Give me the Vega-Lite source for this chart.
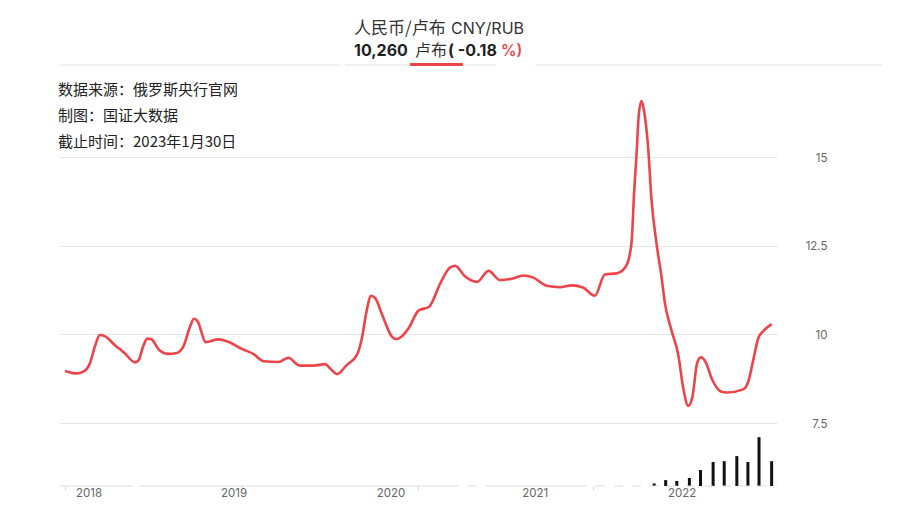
{
  "$schema": "https://vega.github.io/schema/vega-lite/v6.json",
  "width": 717,
  "height": 421,
  "autosize": "none",
  "padding": {"left": 60, "top": 65, "right": 123, "bottom": 26},
  "background": "white",
  "config": {"view": {"stroke": null}, "font": "Noto Sans CJK SC"},
  "datasets": {
    "price": [
      {"date":"2018-01-01","rate":8.97},{"date":"2018-01-31","rate":8.90},{"date":"2018-02-18","rate":8.95},{"date":"2018-03-07","rate":9.18},
      {"date":"2018-03-20","rate":9.65},{"date":"2018-04-02","rate":9.98},{"date":"2018-04-15","rate":9.95},{"date":"2018-05-11","rate":9.70},
      {"date":"2018-06-06","rate":9.47},{"date":"2018-07-03","rate":9.21},{"date":"2018-07-13","rate":9.28},{"date":"2018-07-24","rate":9.65},
      {"date":"2018-08-04","rate":9.88},{"date":"2018-08-15","rate":9.86},{"date":"2018-09-04","rate":9.56},{"date":"2018-09-28","rate":9.45},
      {"date":"2018-10-18","rate":9.47},{"date":"2018-11-06","rate":9.65},{"date":"2018-11-24","rate":10.22},{"date":"2018-12-04","rate":10.44},
      {"date":"2018-12-14","rate":10.36},{"date":"2019-01-04","rate":9.78},{"date":"2019-02-06","rate":9.86},{"date":"2019-03-04","rate":9.79},
      {"date":"2019-04-08","rate":9.59},{"date":"2019-05-08","rate":9.45},{"date":"2019-06-05","rate":9.24},{"date":"2019-07-13","rate":9.22},
      {"date":"2019-08-08","rate":9.34},{"date":"2019-09-06","rate":9.12},{"date":"2019-10-13","rate":9.12},{"date":"2019-11-12","rate":9.16},
      {"date":"2019-11-25","rate":9.04},{"date":"2019-12-13","rate":8.88},{"date":"2020-01-08","rate":9.14},{"date":"2020-02-03","rate":9.42},
      {"date":"2020-02-16","rate":9.89},{"date":"2020-02-28","rate":10.64},{"date":"2020-03-11","rate":11.09},{"date":"2020-03-22","rate":11.02},
      {"date":"2020-04-09","rate":10.55},{"date":"2020-05-05","rate":9.93},{"date":"2020-05-16","rate":9.87},{"date":"2020-05-31","rate":9.95},
      {"date":"2020-06-17","rate":10.17},{"date":"2020-07-13","rate":10.67},{"date":"2020-08-10","rate":10.78},{"date":"2020-09-08","rate":11.44},
      {"date":"2020-10-04","rate":11.89},{"date":"2020-10-17","rate":11.93},{"date":"2020-11-12","rate":11.63},{"date":"2020-12-13","rate":11.48},
      {"date":"2021-01-12","rate":11.79},{"date":"2021-02-11","rate":11.53},{"date":"2021-03-14","rate":11.57},{"date":"2021-04-13","rate":11.66},
      {"date":"2021-05-09","rate":11.60},{"date":"2021-06-13","rate":11.37},{"date":"2021-07-18","rate":11.33},{"date":"2021-08-17","rate":11.38},
      {"date":"2021-09-16","rate":11.32},{"date":"2021-10-17","rate":11.09},{"date":"2021-11-12","rate":11.69},{"date":"2021-12-13","rate":11.72},
      {"date":"2022-01-03","rate":11.87},{"date":"2022-01-16","rate":12.24},{"date":"2022-01-22","rate":12.75},{"date":"2022-01-27","rate":13.88},
      {"date":"2022-02-03","rate":15.10},{"date":"2022-02-09","rate":16.23},{"date":"2022-02-16","rate":16.58},{"date":"2022-02-22","rate":16.33},
      {"date":"2022-03-05","rate":15.29},{"date":"2022-03-14","rate":13.79},{"date":"2022-03-27","rate":12.57},{"date":"2022-04-09","rate":11.63},
      {"date":"2022-04-18","rate":10.88},{"date":"2022-05-05","rate":10.12},{"date":"2022-05-23","rate":9.42},{"date":"2022-06-05","rate":8.48},
      {"date":"2022-06-18","rate":7.98},{"date":"2022-06-29","rate":8.24},{"date":"2022-07-11","rate":9.18},{"date":"2022-07-21","rate":9.35},
      {"date":"2022-08-03","rate":9.21},{"date":"2022-08-18","rate":8.76},{"date":"2022-09-13","rate":8.38},{"date":"2022-09-26","rate":8.36},
      {"date":"2022-11-09","rate":8.45},{"date":"2022-11-22","rate":8.67},{"date":"2022-12-05","rate":9.28},{"date":"2022-12-18","rate":9.89},
      {"date":"2022-12-31","rate":10.09},{"date":"2023-01-22","rate":10.29}
    ],
    "volume": [
      {"date":"2022-03-21","vol":0.6},{"date":"2022-04-20","vol":1.4},{"date":"2022-05-19","vol":1.2},{"date":"2022-06-21","vol":1.9},
      {"date":"2022-07-20","vol":3.8},{"date":"2022-08-22","vol":5.7},{"date":"2022-09-20","vol":5.9},{"date":"2022-10-23","vol":7.1},
      {"date":"2022-11-21","vol":5.7},{"date":"2022-12-20","vol":11.6},{"date":"2023-01-22","vol":5.9}
    ],
    "baseline": [
      {"start":"2017-12-19","end":"2018-06-28"},
      {"start":"2018-07-13","end":"2020-10-03"},
      {"start":"2021-01-24","end":"2021-09-03"}
    ],
    "baselineDashed": [
      {"start":"2020-10-03","end":"2021-01-24"},
      {"start":"2021-09-03","end":"2023-02-05"}
    ],
    "headerLine": [
      {"start":"2017-12-19","end":"2019-12-21"},
      {"start":"2020-01-03","end":"2021-02-01"},
      {"start":"2021-05-14","end":"2023-11-07"}
    ],
    "years": [
      {"date":"2018-03-05","label":"2018"},
      {"date":"2019-03-19","label":"2019"},
      {"date":"2020-05-02","label":"2020"},
      {"date":"2021-05-14","label":"2021"},
      {"date":"2022-06-02","label":"2022"}
    ]
  },
  "layer": [
    {
      "data": {"name": "price"},
      "mark": {"type": "line", "color": "#ee4449", "strokeWidth": 2.6, "interpolate": "monotone"},
      "encoding": {
        "x": {
          "field": "date",
          "type": "temporal",
          "scale": {"domain": [{"year":2017,"month":12,"date":19},{"year":2023,"month":2,"date":5}], "padding": 0},
          "axis": {
            "title": null,
            "labels": false,
            "domain": false,
            "grid": false,
            "tickColor": "#d8d8d8",
            "tickSize": 4,
            "values": [
              {"year":2018,"month":1,"date":1},
              {"year":2019,"month":4,"date":9},
              {"year":2020,"month":7,"date":12},
              {"year":2021,"month":10,"date":12}
            ]
          }
        },
        "y": {
          "field": "rate",
          "type": "quantitative",
          "scale": {"domain": [5.725, 17.594], "nice": false, "zero": false},
          "axis": {
            "title": null,
            "orient": "right",
            "values": [7.5, 10, 12.5, 15],
            "labelExpr": "datum.value",
            "domain": false,
            "ticks": false,
            "grid": true,
            "gridColor": "#e6e6e6",
            "labelAlign": "right",
            "labelPadding": 50,
            "labelOffset": 1,
            "labelFont": "Inter",
            "labelFontSize": 11.5,
            "labelColor": "#666666"
          }
        }
      }
    },
    {
      "data": {"name": "volume"},
      "mark": {"type": "bar", "color": "#111111", "width": 3},
      "encoding": {
        "x": {"field": "date", "type": "temporal"},
        "y": {
          "field": "vol",
          "type": "quantitative",
          "scale": {"domain": [0, 100], "nice": false},
          "axis": null
        }
      }
    },
    {
      "data": {"name": "baseline"},
      "mark": {"type": "rule", "color": "#dddddd", "strokeWidth": 1},
      "encoding": {
        "x": {"field": "start", "type": "temporal"},
        "x2": {"field": "end"},
        "y": {"value": 421}
      }
    },
    {
      "data": {"name": "baselineDashed"},
      "mark": {"type": "rule", "color": "#dddddd", "strokeWidth": 1, "strokeDash": [9, 9]},
      "encoding": {
        "x": {"field": "start", "type": "temporal"},
        "x2": {"field": "end"},
        "y": {"value": 421}
      }
    },
    {
      "data": {"name": "years"},
      "mark": {"type": "text", "font": "Inter", "fontSize": 11.5, "color": "#666666", "baseline": "middle"},
      "encoding": {
        "x": {"field": "date", "type": "temporal"},
        "y": {"value": 429},
        "text": {"field": "label"}
      }
    },
    {
      "data": {"name": "headerLine"},
      "mark": {"type": "rule", "color": "#e2e2e2", "strokeWidth": 1},
      "encoding": {
        "x": {"field": "start", "type": "temporal"},
        "x2": {"field": "end"},
        "y": {"value": 0}
      }
    },
    {
      "data": {"values": [{"start": "2020-06-21", "end": "2020-11-06"}]},
      "mark": {"type": "rule", "color": "#ee4449", "strokeWidth": 3},
      "encoding": {
        "x": {"field": "start", "type": "temporal"},
        "x2": {"field": "end"},
        "y": {"value": -0.5}
      }
    },
    {
      "data": {"values": [{"label": "数据来源：俄罗斯央行官网\n制图：国证大数据\n截止时间：2023年1月30日"}]},
      "mark": {"type": "text", "align": "left", "baseline": "middle", "fontSize": 15, "color": "#222222", "lineBreak": "\n", "lineHeight": 26},
      "encoding": {"x": {"value": -2}, "y": {"value": 25}, "text": {"field": "label"}}
    },
    {
      "data": {"values": [{"label": "人民币/卢布"}]},
      "mark": {"type": "text", "align": "left", "baseline": "middle", "fontSize": 17, "color": "#333333"},
      "encoding": {"x": {"value": 294}, "y": {"value": -36.5}, "text": {"field": "label"}}
    },
    {
      "data": {"values": [{"label": "CNY/RUB"}]},
      "mark": {"type": "text", "align": "left", "baseline": "middle", "font": "Inter", "fontSize": 16, "color": "#333333"},
      "encoding": {"x": {"value": 391}, "y": {"value": -36.5}, "text": {"field": "label"}}
    },
    {
      "data": {"values": [{"label": "10,260"}]},
      "mark": {"type": "text", "align": "left", "baseline": "middle", "font": "Inter", "fontSize": 16, "fontWeight": "bold", "color": "#1f1f1f"},
      "encoding": {"x": {"value": 294}, "y": {"value": -14.5}, "text": {"field": "label"}}
    },
    {
      "data": {"values": [{"label": "卢布"}]},
      "mark": {"type": "text", "align": "left", "baseline": "middle", "fontSize": 16, "color": "#333333"},
      "encoding": {"x": {"value": 355}, "y": {"value": -14}, "text": {"field": "label"}}
    },
    {
      "data": {"values": [{"label": "( -0.18"}]},
      "mark": {"type": "text", "align": "left", "baseline": "middle", "font": "Inter", "fontSize": 16, "fontWeight": "bold", "color": "#1f1f1f"},
      "encoding": {"x": {"value": 388}, "y": {"value": -14.5}, "text": {"field": "label"}}
    },
    {
      "data": {"values": [{"label": "%)"}]},
      "mark": {"type": "text", "align": "left", "baseline": "middle", "font": "Inter", "fontSize": 15.5, "fontWeight": 600, "color": "#ee4449"},
      "encoding": {"x": {"value": 441}, "y": {"value": -14.5}, "text": {"field": "label"}}
    }
  ],
  "resolve": {"scale": {"y": "independent"}}
}
